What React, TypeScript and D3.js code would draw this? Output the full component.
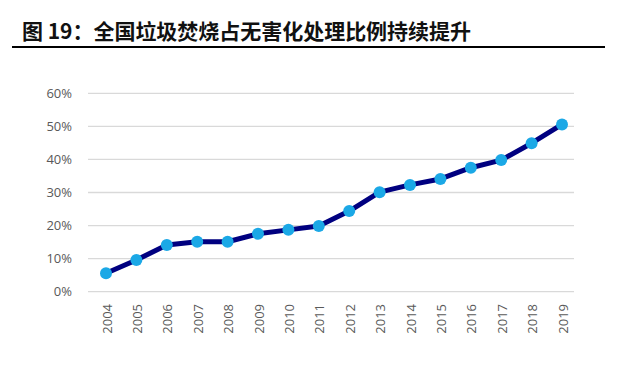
import React from "react";
import * as d3 from "d3";

const years = ["2004","2005","2006","2007","2008","2009","2010","2011","2012","2013","2014","2015","2016","2017","2018","2019"];
const ratios = [5.6, 9.6, 14.1, 15.1, 15.1, 17.5, 18.7, 19.9, 24.4, 30.1, 32.3, 34.1, 37.5, 39.8, 44.9, 50.6];
const yTicks = [0, 10, 20, 30, 40, 50, 60];
const title = "图 19：全国垃圾焚烧占无害化处理比例持续提升";

export default function App() {
  const W = 640, H = 374;
  const gx0 = 88, gx1 = 574;
  const x = d3.scalePoint<string>().domain(years).range([106, 562]);
  const y = d3.scaleLinear().domain([0, 60]).range([291.7, 93.3]);
  const line = d3.line<number>().x((_, i) => x(years[i])!).y(d => y(d));
  const axisFont = "'Open Sans', 'Noto Sans', sans-serif";
  return (
    <svg width={W} height={H} style={{ position: "absolute", left: 0, top: 0, background: "#fff" }}>
      <text x={22} y={39} fontFamily="'Noto Sans CJK SC', sans-serif" fontWeight="bold" fontSize={21} fill="#111" textLength={449} lengthAdjust="spacing">{title}</text>
      <line x1={12} x2={605} y1={47} y2={47} stroke="#000" strokeWidth={2} />
      {yTicks.map(t => (
        <g key={t}>
          <line x1={gx0} x2={gx1} y1={y(t)} y2={y(t)} stroke="#d9d9d9" strokeWidth={1.3} />
          <text x={72} y={y(t)} dy="0.35em" textAnchor="end" fontFamily={axisFont} fontSize={13} fill="#595959">{t}%</text>
        </g>
      ))}
      {years.map(yr => (
        <text key={yr} transform={`translate(${x(yr)! + 1},${304}) rotate(-90)`} textAnchor="end" dy="0.35em" fontFamily={axisFont} fontSize={13} fill="#595959">{yr}</text>
      ))}
      <path d={line(ratios)!} fill="none" stroke="#000080" strokeWidth={5} strokeLinejoin="round" />
      {ratios.map((v, i) => (
        <circle key={i} cx={x(years[i])!} cy={y(v)} r={6} fill="#1ba8e6" />
      ))}
    </svg>
  );
}
